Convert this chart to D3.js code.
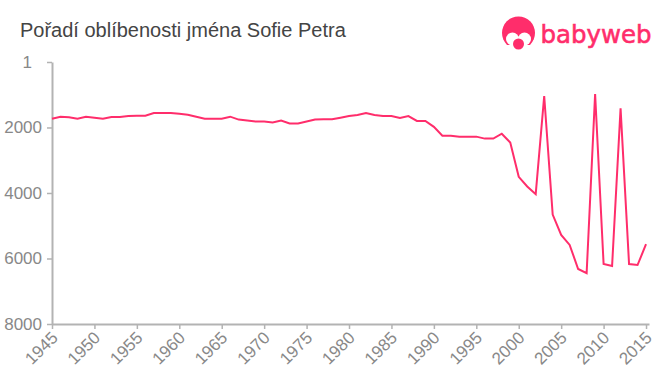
<!DOCTYPE html>
<html>
<head>
<meta charset="utf-8">
<script src="https://cdn.jsdelivr.net/npm/d3@7"></script>
<style>
  html, body { margin: 0; background: #fff; }
  svg { display: block; font-family: "Liberation Sans", Arial, sans-serif; }
</style>
</head>
<body>
<div id="chart"></div>
<script>
// Rank of the name per year
const years = [1945,1946,1947,1948,1949,1950,1951,1952,1953,1954,1955,1956,1957,1958,1959,
  1960,1961,1962,1963,1964,1965,1966,1967,1968,1969,1970,1971,1972,1973,1974,
  1975,1976,1977,1978,1979,1980,1981,1982,1983,1984,1985,1986,1987,1988,1989,
  1990,1991,1992,1993,1994,1995,1996,1997,1998,1999,2000,2001,2002,2003,2004,
  2005,2006,2007,2008,2009,2010,2011,2012,2013,2014,2015];
const ranks = [1733,1673,1690,1733,1673,1700,1733,1680,1680,1650,1640,1640,1560,1560,1560,
  1580,1610,1670,1730,1730,1730,1670,1760,1790,1820,1820,1850,1790,1880,1880,
  1820,1760,1750,1750,1700,1650,1620,1560,1620,1650,1650,1710,1650,1800,1800,
  1980,2250,2250,2280,2280,2280,2340,2340,2190,2460,3507,3800,4037,1040,4660,
  5280,5585,6320,6450,980,6170,6230,1416,6170,6200,5565];
const xTicks = [1945,1950,1955,1960,1965,1970,1975,1980,1985,1990,1995,2000,2005,2010,2015];
const yTicks = [1,2000,4000,6000,8000];
const title = "Pořadí oblíbenosti jména Sofie Petra";
const brand = "babyweb";

const WIDTH = 660, HEIGHT = 375;
const PINK = "#ff2d6b", AXIS = "#b3b3b3", LABEL = "#888";

const svg = d3.select("#chart").append("svg")
  .attr("width", WIDTH)
  .attr("height", HEIGHT);

// axis runs a little past the last year
const x = d3.scaleLinear().domain([1945, 2015.35]).range([52, 649]);
const y = d3.scaleLinear().domain([1, 8000]).range([62, 324]);

svg.append("text")
  .attr("x", 20).attr("y", 37)
  .attr("font-size", 20).attr("fill", "#444")
  .text(title);

const xAxis = svg.append("g")
  .attr("transform", "translate(0,324)")
  .call(d3.axisBottom(x).tickValues(xTicks).tickFormat(d3.format("d")).tickSize(5).tickSizeOuter(0));
xAxis.selectAll("text")
  .attr("text-anchor", "end")
  .attr("transform", "rotate(-45)")
  .attr("x", -6).attr("y", 9).attr("dy", "0.35em");

const yAxis = svg.append("g")
  .attr("transform", "translate(52,0)")
  .call(d3.axisLeft(y).tickValues(yTicks).tickFormat(d3.format("d")).tickSize(5).tickSizeOuter(0));
// the top label "1" sits further left than the others in the original
yAxis.selectAll("text").attr("x", d => d === 1 ? -20 : -10);

svg.selectAll(".domain").attr("stroke", AXIS).attr("stroke-width", 2);
svg.selectAll(".tick line").attr("stroke", AXIS).attr("stroke-width", 1.5);
svg.selectAll(".tick text")
  .attr("fill", LABEL)
  .style("font-family", '"Liberation Sans", Arial, sans-serif')
  .style("font-size", "17px");

const line = d3.line().x((d, i) => x(years[i])).y(d => y(d));
svg.append("path")
  .datum(ranks)
  .attr("fill", "none")
  .attr("stroke", PINK)
  .attr("stroke-width", 2)
  .attr("stroke-linejoin", "miter")
  .attr("d", line);

// logo: head with hair, face cut out of it, dummy on top
const logo = svg.append("g");
logo.append("circle").attr("cx", 518.5).attr("cy", 33).attr("r", 16.5).attr("fill", PINK);
logo.append("rect").attr("x", 500).attr("y", 45).attr("width", 37).attr("height", 6).attr("fill", "#fff");
logo.append("circle").attr("cx", 512.5).attr("cy", 39).attr("r", 6.5).attr("fill", "#fff");
logo.append("circle").attr("cx", 524.5).attr("cy", 39).attr("r", 6.5).attr("fill", "#fff");
logo.append("rect").attr("x", 511).attr("y", 38).attr("width", 15).attr("height", 8).attr("fill", "#fff");
logo.append("circle").attr("cx", 518.5).attr("cy", 44).attr("r", 5.5).attr("fill", PINK);
logo.append("text")
  .attr("x", 540.5).attr("y", 43)
  .attr("font-family", "DejaVu Sans, sans-serif")
  .attr("font-size", 25.5)
  .attr("fill", PINK)
  .attr("stroke", PINK)
  .attr("stroke-width", 0.6)
  .attr("textLength", 111)
  .attr("lengthAdjust", "spacingAndGlyphs")
  .text(brand);
</script>
</body>
</html>
